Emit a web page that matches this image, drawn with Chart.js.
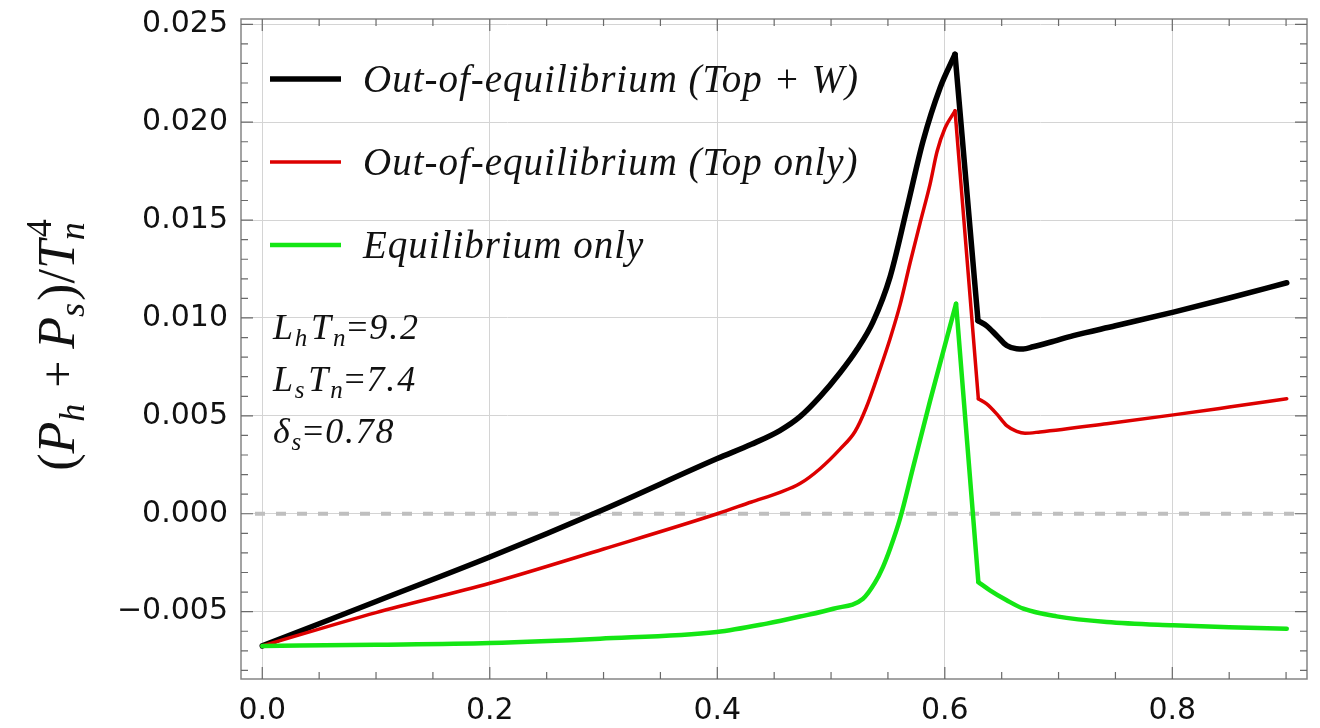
<!DOCTYPE html>
<html>
<head>
<meta charset="utf-8">
<script src="https://cdn.jsdelivr.net/npm/chart.js@4.4.1/dist/chart.umd.min.js"></script>
<style>
  html, body { margin: 0; padding: 0; background: #fff; }
  #wrap { width: 1320px; height: 728px; position: relative; }
</style>
</head>
<body>
<div id="wrap"><canvas id="chart"></canvas></div>
<script>
// Out-of-equilibrium (Top + W)
const blackX = [0, 0.1, 0.2, 0.3, 0.4, 0.43, 0.455, 0.4727, 0.4903, 0.5079, 0.5229, 0.5369, 0.5519, 0.5668,
  0.5809, 0.5958, 0.609, 0.6292, 0.6368, 0.6459, 0.6544, 0.6631, 0.669, 0.6775, 0.6925, 0.713, 0.75, 0.801, 0.85, 0.9006];
const blackY = [-0.00675, -0.00448, -0.00221, 0.00022, 0.00282, 0.00355, 0.00425, 0.00496, 0.00598, 0.0072,
  0.0084, 0.0098, 0.0121, 0.01562, 0.01904, 0.02175, 0.02347, 0.00986, 0.0096, 0.00908, 0.00859, 0.00843, 0.00842,
  0.00853, 0.00876, 0.0091, 0.0096, 0.0103, 0.01102, 0.0118];

// Out-of-equilibrium (Top only)
const redX = [0, 0.1, 0.2, 0.3, 0.4, 0.43, 0.4551, 0.4727, 0.4903, 0.5079, 0.5211, 0.5308, 0.5431, 0.5519,
  0.5607, 0.5695, 0.5783, 0.5871, 0.5932, 0.6002, 0.609, 0.6295, 0.6368, 0.6456, 0.6544, 0.6632, 0.6705, 0.6837,
  0.7423, 0.8009, 0.85, 0.9006];
const redY = [-0.00675, -0.00505, -0.00355, -0.0018, 0.0, 0.0006, 0.00109, 0.00154, 0.0023, 0.0033, 0.0042,
  0.0054, 0.0074, 0.00894, 0.01068, 0.01282, 0.01486, 0.01685, 0.0185, 0.0197, 0.02058, 0.00587, 0.00561, 0.0051,
  0.0045, 0.00421, 0.00411, 0.00418, 0.0046, 0.00505, 0.00545, 0.00587];

// Equilibrium only
const greenX = [0, 0.1, 0.2, 0.2969, 0.3995, 0.4434, 0.4727, 0.502, 0.5281, 0.5386, 0.5457, 0.5519, 0.5607,
  0.5721, 0.5871, 0.6099, 0.6295, 0.6397, 0.6544, 0.669, 0.6984, 0.7423, 0.8009, 0.85, 0.9006];
const greenY = [-0.00675, -0.00669, -0.0066, -0.00638, -0.00604, -0.00561, -0.00525, -0.00485, -0.00434, -0.00352,
  -0.00271, -0.00179, -0.00024, 0.00236, 0.00578, 0.01073, -0.00349, -0.00391, -0.00442, -0.00485, -0.00524,
  -0.00553, -0.0057, -0.0058, -0.00587];

const seriesLabels = ['Out-of-equilibrium (Top + W)', 'Out-of-equilibrium (Top only)', 'Equilibrium only'];
const seriesColors = ['#000000', '#dd0000', '#14e614'];
const seriesWidths = [5.5, 3.5, 4.5];

const xTicks = [0, 0.2, 0.4, 0.6, 0.8];
const yTicks = [-0.005, 0, 0.005, 0.01, 0.015, 0.02, 0.025];

const SERIF = '"Liberation Serif", "DejaVu Serif", serif';

function drawRuns(ctx, x, y, runs, spacing) {
  let cx = x;
  ctx.letterSpacing = (spacing || 0) + 'px';
  runs.forEach(r => {
    if (r.pair) {
      // subscript and superscript stacked
      ctx.font = 'italic ' + r.size + 'px ' + SERIF;
      ctx.fillText(r.pair[0], cx, y + r.sub);
      const w0 = ctx.measureText(r.pair[0]).width;
      ctx.font = r.size + 'px ' + SERIF;
      ctx.fillText(r.pair[1], cx + 3, y + r.sup);
      cx += Math.max(w0, ctx.measureText(r.pair[1]).width + 3);
      return;
    }
    ctx.font = (r.it ? 'italic ' : '') + r.size + 'px ' + SERIF;
    ctx.fillText(r.t, cx, y + (r.dy || 0));
    cx += ctx.measureText(r.t).width + (r.gap || 0);
  });
  ctx.letterSpacing = '0px';
  return cx - x;
}

function runsWidth(ctx, runs) {
  ctx.save();
  ctx.globalAlpha = 0;
  const w = drawRuns(ctx, 0, 0, runs);
  ctx.restore();
  return w;
}

const yTitle = [
  { t: '(', size: 52 }, { t: 'P', it: true, size: 52 }, { t: 'h', it: true, size: 36, dy: 10, gap: 4 },
  { t: ' + ', size: 48 }, { t: 'P', it: true, size: 52 }, { t: 's', it: true, size: 36, dy: 10, gap: 2 },
  { t: ')/', size: 52 }, { t: 'T', it: true, size: 52 }, { pair: ['n', '4'], size: 36, sub: 10, sup: -23 }
];

const params = [
  [{ t: 'L', it: true, size: 36 }, { t: 'h', it: true, size: 25, dy: 7, gap: 2 }, { t: 'T', it: true, size: 36 },
   { t: 'n', it: true, size: 25, dy: 7 }, { t: '=', size: 36 }, { t: '9.2', it: true, size: 36 }],
  [{ t: 'L', it: true, size: 36 }, { t: 's', it: true, size: 25, dy: 7, gap: 2 }, { t: 'T', it: true, size: 36 },
   { t: 'n', it: true, size: 25, dy: 7 }, { t: '=', size: 36 }, { t: '7.4', it: true, size: 36 }],
  [{ t: 'δ', it: true, size: 36 }, { t: 's', it: true, size: 25, dy: 7 }, { t: '=', size: 36 },
   { t: '0.78', it: true, size: 36 }]
];

const decorPlugin = {
  id: 'decor',
  beforeDatasetsDraw(chart) {
    const { ctx, chartArea: a, scales: { y } } = chart;
    const py = y.getPixelForValue(0);
    ctx.save();
    ctx.strokeStyle = '#bfbfbf';
    ctx.lineWidth = 4;
    ctx.setLineDash([10, 11]);
    ctx.beginPath();
    ctx.moveTo(a.left + 14, py);
    ctx.lineTo(a.right - 8, py);
    ctx.stroke();
    ctx.restore();
  },
  afterDatasetsDraw(chart) {
    const { ctx, chartArea: a, scales: { x, y } } = chart;
    ctx.save();
    // frame
    ctx.strokeStyle = '#858585';
    ctx.lineWidth = 1.5;
    ctx.strokeRect(a.left, a.top, a.right - a.left, a.bottom - a.top);
    // inward ticks on all four sides
    ctx.lineWidth = 1.2;
    ctx.strokeStyle = '#6a6a6a';
    ctx.beginPath();
    for (let i = 0; i <= 18; i++) {
      const px = x.getPixelForValue(i * 0.05);
      const len = i % 4 === 0 ? 12 : 7;
      ctx.moveTo(px, a.bottom); ctx.lineTo(px, a.bottom - len);
      ctx.moveTo(px, a.top); ctx.lineTo(px, a.top + len);
    }
    for (let i = -8; i <= 25; i++) {
      const py = y.getPixelForValue(i * 0.001);
      const len = i % 5 === 0 ? 12 : 7;
      ctx.moveTo(a.left, py); ctx.lineTo(a.left + len, py);
      ctx.moveTo(a.right, py); ctx.lineTo(a.right - len, py);
    }
    ctx.stroke();

    // legend
    ctx.fillStyle = '#111';
    ctx.textBaseline = 'alphabetic';
    seriesLabels.forEach((lab, i) => {
      const ly = 79 + i * 83;
      ctx.strokeStyle = seriesColors[i];
      ctx.lineWidth = seriesWidths[i];
      ctx.beginPath();
      ctx.moveTo(270, ly); ctx.lineTo(341, ly);
      ctx.stroke();
      ctx.font = 'italic 39px ' + SERIF;
      ctx.letterSpacing = '1px';
      ctx.fillText(lab, 363, ly + 13);
      ctx.letterSpacing = '0px';
    });

    // parameter annotations
    params.forEach((runs, i) => drawRuns(ctx, 273, 339 + i * 52, runs, 1.8));

    // y axis title
    ctx.translate(74, 345);
    ctx.rotate(-Math.PI / 2);
    const w = runsWidth(ctx, yTitle);
    drawRuns(ctx, -w / 2, 0, yTitle);
    ctx.restore();
  }
};

const makeData = (xs, ys) => xs.map((xv, i) => ({ x: xv, y: ys[i] }));
const seriesData = [makeData(blackX, blackY), makeData(redX, redY), makeData(greenX, greenY)];

// each curve is split at its peak and at the foot of the drop so that the
// smooth interpolation keeps those corners sharp
const datasets = [];
seriesData.forEach((d, i) => {
  let peak = 0;
  d.forEach((p, k) => { if (p.y > d[peak].y) peak = k; });
  const parts = [d.slice(0, peak + 1), d.slice(peak, peak + 2), d.slice(peak + 1)];
  parts.forEach(part => datasets.push({
    label: seriesLabels[i],
    data: part,
    borderColor: seriesColors[i],
    borderWidth: seriesWidths[i],
    pointRadius: 0,
    cubicInterpolationMode: 'monotone',
    fill: false,
    borderJoinStyle: 'round',
    borderCapStyle: 'round',
    order: 3 - i
  }));
});

new Chart(document.getElementById('chart'), {
  type: 'line',
  data: { datasets },
  options: {
    responsive: true,
    maintainAspectRatio: false,
    animation: false,
    layout: { padding: { left: 0, right: 13, top: 19, bottom: 0 } },
    plugins: { legend: { display: false }, tooltip: { enabled: false } },
    scales: {
      x: {
        type: 'linear',
        min: -0.0187,
        max: 0.9184,
        afterFit: s => { s.height = 49; s.paddingLeft = 0; s.paddingRight = 0; },
        afterBuildTicks: s => { s.ticks = xTicks.map(v => ({ value: v })); },
        ticks: {
          padding: 14,
          color: '#111',
          font: { family: '"DejaVu Sans", sans-serif', size: 30 },
          callback: v => v.toFixed(1),
          maxRotation: 0
        },
        grid: { color: '#d4d4d4', lineWidth: 1, drawTicks: false },
        border: { display: false }
      },
      y: {
        type: 'linear',
        min: -0.00844,
        max: 0.02527,
        afterFit: s => { s.width = 241; s.paddingTop = 0; s.paddingBottom = 0; },
        afterBuildTicks: s => { s.ticks = yTicks.map(v => ({ value: v })); },
        ticks: {
          padding: 13,
          color: '#111',
          font: { family: '"DejaVu Sans", sans-serif', size: 30 },
          callback: v => (Math.abs(v) < 1e-9 ? '0.000' : (v < 0 ? '\u2212' : '') + Math.abs(v).toFixed(3))
        },
        grid: { color: '#d4d4d4', lineWidth: 1, drawTicks: false },
        border: { display: false }
      }
    }
  },
  plugins: [decorPlugin]
});
</script>
</body>
</html>
